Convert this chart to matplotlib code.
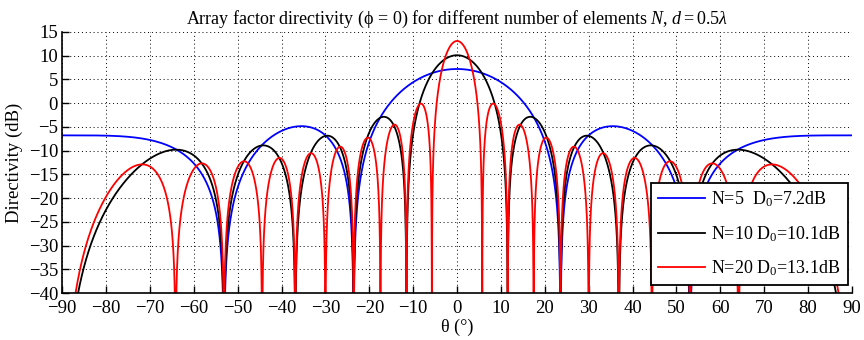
import numpy as np
import matplotlib
matplotlib.use("Agg")
import matplotlib.pyplot as plt

plt.rcParams['font.family'] = ['Liberation Serif', 'DejaVu Serif']
plt.rcParams['mathtext.fontset'] = 'custom'
plt.rcParams['mathtext.rm'] = 'Liberation Serif'
plt.rcParams['mathtext.it'] = 'Liberation Serif:italic'

# Array parameters
n_elements = [5, 10, 20]
d0_db = [7.2, 10.1, 13.1]
spacing = 0.5  # element spacing in wavelengths
colors = ['#0000ff', '#000000', '#ff0000']
labels = [r'N=5  D$_0$=7.2dB', r'N=10 D$_0$=10.1dB', r'N=20 D$_0$=13.1dB']

x_ticks = list(range(-90, 91, 10))
y_ticks = list(range(-40, 16, 5))

theta = np.linspace(-90, 90, 18001)
psi = 2 * np.pi * spacing * np.sin(np.radians(theta))

fig = plt.figure(figsize=(8.64, 3.4), dpi=100)
ax = fig.add_axes([0.072, 0.138, 0.914, 0.768])

for n, d0, c, lab in zip(n_elements, d0_db, colors, labels):
    half = psi / 2
    small = np.abs(np.sin(half)) < 1e-12
    af = np.where(small, 1.0, np.sin(n * half) / (n * np.where(small, 1.0, np.sin(half))))
    with np.errstate(divide='ignore'):
        d = d0 + 20 * np.log10(np.abs(af))
    d = np.maximum(d, -200)
    ax.plot(theta, d, color=c, lw=1.3, label=lab)

ax.set_xlim(-90, 90)
ax.set_ylim(-40, 15)
ax.set_xticks(x_ticks)
ax.set_yticks(y_ticks)
ax.tick_params(direction='in', length=5, width=1, labelsize=13.5)
ax.tick_params(axis='x', pad=5)
ax.tick_params(axis='y', pad=3)
ax.grid(True, linestyle=(0, (1, 3)), color='black', lw=0.7)
for s in ['top', 'right']:
    ax.spines[s].set_visible(False)
for s in ['left', 'bottom']:
    ax.spines[s].set_linewidth(1.2)

ax.set_title(r'Array factor directivity (ϕ = 0) for different number of elements $N$, $\mathit{d{=}0.5}\lambda$',
             fontsize=13, pad=6)
ax.set_xlabel('θ (°)', fontsize=13, labelpad=1)
ax.set_ylabel('Directivity (dB)', fontsize=13.5, labelpad=4)

leg = ax.legend(loc='lower right', bbox_to_anchor=(0.995, 0.031), fontsize=13,
                frameon=True, fancybox=False, edgecolor='black', framealpha=1,
                borderpad=0.4, handlelength=2.6, labelspacing=0.8,
                handletextpad=0.35, borderaxespad=0.0)
leg.get_frame().set_linewidth(1.3)

fig.savefig('out.png', dpi=100)
